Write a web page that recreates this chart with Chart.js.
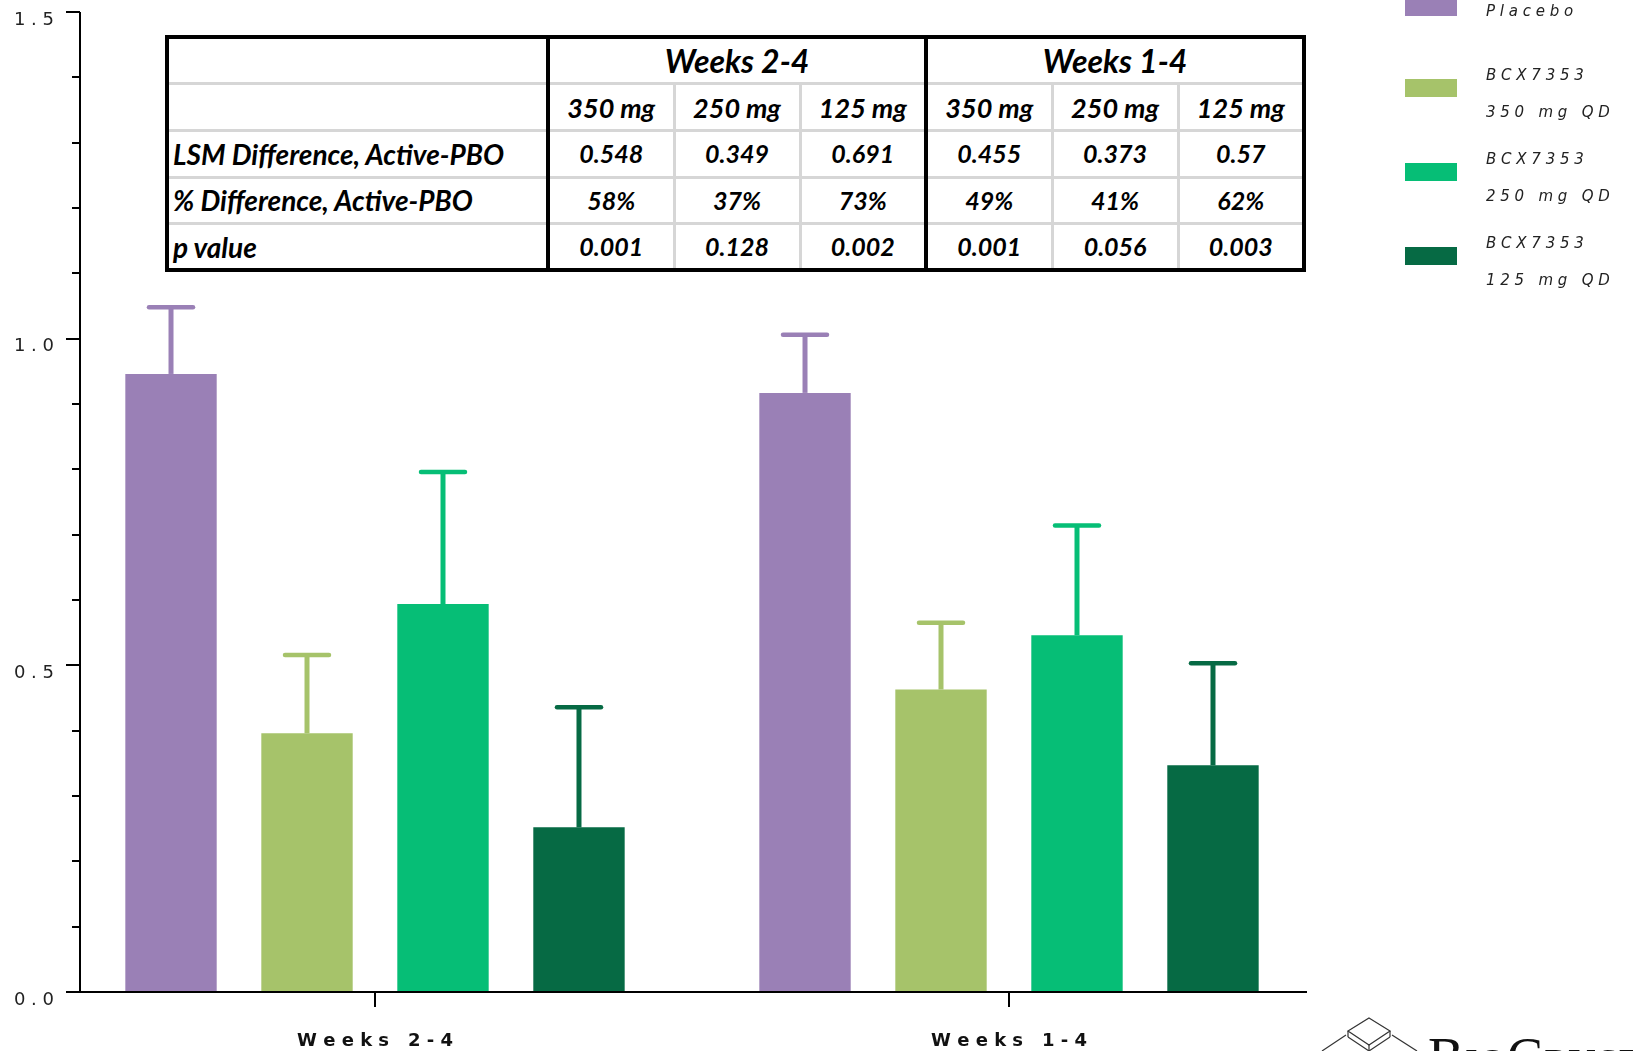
<!DOCTYPE html>
<html>
<head>
<meta charset="utf-8">
<script src="https://cdn.jsdelivr.net/npm/chart.js@4.4.0/dist/chart.umd.min.js"></script>
<style>
  body { margin: 0; background: #fff; }
  #wrap { position: relative; width: 1633px; height: 1051px; overflow: hidden; }
  #chart { position: absolute; left: 0; top: 0; }
  #stats { position: absolute; left: 165px; top: 35px; width: 1141px; table-layout: fixed;
           border-collapse: collapse; border: 4px solid #000; background: #fff; color: #000;
           font-family: Lato, sans-serif; font-weight: bold; font-style: italic; font-size: 25px; }
  #stats tr { height: 46.7px; }
  #stats td { border: 3px solid #d6d6d6; padding: 0; text-align: center; white-space: nowrap; line-height: 1; }
  #stats td.lab { text-align: left; padding-left: 4px; font-size: 28px; }
  #stats td.sep { border-left: 4px solid #000; }
  #stats td.head { font-size: 32px; }
  #stats td.dose { font-size: 27px; }
  #logo { position: absolute; left: 1300px; top: 1000px; }
  #logoText { position: absolute; left: 1428px; top: 1026px; font-family: "Liberation Serif", serif;
              font-size: 54px; font-variant: small-caps; color: #111; letter-spacing: 1px; }
</style>
</head>
<body>
<div id="wrap">
  <canvas id="chart"></canvas>
  <table id="stats"></table>
  <svg id="logo" width="140" height="51">
    <g fill="none" stroke="#333" stroke-width="1.2">
      <polygon points="69,18 90,31 69,45 48,31" />
      <line x1="69" y1="45" x2="69" y2="51" />
      <line x1="48" y1="31" x2="48" y2="37" />
      <line x1="90" y1="31" x2="90" y2="37" />
      <line x1="46" y1="35" x2="22" y2="51" />
      <line x1="92" y1="35" x2="117" y2="51" />
      <line x1="48" y1="37" x2="69" y2="51" />
      <line x1="90" y1="37" x2="69" y2="51" />
    </g>
  </svg>
  <div id="logoText">BioCryst</div>
</div>
<script>
// chart values
const categories = ['Weeks 2-4', 'Weeks 1-4'];
const seriesNames = ['Placebo', 'BCX7353 350 mg QD', 'BCX7353 250 mg QD', 'BCX7353 125 mg QD'];
const seriesColors = ['#9a80b6', '#a6c36a', '#06be76', '#066a44'];

const placebo = [0.946, 0.917];
const dose350 = [0.396, 0.463];
const dose250 = [0.594, 0.546];
const dose125 = [0.252, 0.347];

// upper end of each error bar
const placeboErr = [1.048, 1.006];
const dose350Err = [0.516, 0.565];
const dose250Err = [0.796, 0.714];
const dose125Err = [0.436, 0.503];

const yMin = 0, yMax = 1.5, yStep = 0.1;

// table values
const periods = ['Weeks 2-4', 'Weeks 1-4'];
const doses = ['350 mg', '250 mg', '125 mg'];
const rowLabels = ['LSM Difference, Active-PBO', '% Difference, Active-PBO', 'p value'];
const lsmDiff = ['0.548', '0.349', '0.691', '0.455', '0.373', '0.57'];
const pctDiff = ['58%', '37%', '73%', '49%', '41%', '62%'];
const pValues = ['0.001', '0.128', '0.002', '0.001', '0.056', '0.003'];

function spaced(s) {
    return s.split('').join(' ');
}

// build the table over the chart
const table = document.getElementById('stats');
let html = '<colgroup><col style="width:381px">';
for (let i = 0; i < 6; i++) html += '<col style="width:126px">';
html += '</colgroup>';
html += '<tr><td class="lab"></td>' + periods.map(p => '<td colspan="3" class="head sep">' + p + '</td>').join('') + '</tr>';
html += '<tr><td class="lab"></td>' + periods.map(() => doses.map((d, k) => '<td class="dose' + (k === 0 ? ' sep' : '') + '">' + d + '</td>').join('')).join('') + '</tr>';
[lsmDiff, pctDiff, pValues].forEach((row, r) => {
    html += '<tr><td class="lab">' + rowLabels[r] + '</td>' +
        row.map((v, k) => '<td' + (k % 3 === 0 ? ' class="sep"' : '') + '>' + v + '</td>').join('') + '</tr>';
});
table.innerHTML = html;

function isMajor(v) {
    return Math.abs(v * 2 - Math.round(v * 2)) < 1e-6;
}

// gap between the left edge of the category scale and the drawn y axis line
const AXIS_INSET = 22;

// error bars (upper only, with cap)
const errorBars = {
    id: 'errorBars',
    afterDatasetsDraw(chart) {
        const ctx = chart.ctx;
        const y = chart.scales.y;
        chart.data.datasets.forEach((ds, i) => {
            const meta = chart.getDatasetMeta(i);
            meta.data.forEach((bar, j) => {
                const top = y.getPixelForValue(ds.errorTop[j]);
                ctx.save();
                ctx.strokeStyle = ds.backgroundColor;
                ctx.lineWidth = 5;
                ctx.beginPath();
                ctx.moveTo(bar.x, bar.y);
                ctx.lineTo(bar.x, top);
                ctx.stroke();
                ctx.lineWidth = 4.5;
                ctx.lineCap = 'round';
                ctx.beginPath();
                ctx.moveTo(bar.x - 22, top);
                ctx.lineTo(bar.x + 22, top);
                ctx.stroke();
                ctx.restore();
            });
        });
    }
};

// y axis line with its tick marks, and the x axis line
const axisLines = {
    id: 'axisLines',
    afterDraw(chart) {
        const ctx = chart.ctx;
        const y = chart.scales.y;
        const area = chart.chartArea;
        const ax = area.left + AXIS_INSET;
        ctx.save();
        ctx.strokeStyle = '#000';
        ctx.lineWidth = 2;
        y.ticks.forEach(t => {
            const py = Math.round(y.getPixelForValue(t.value));
            const len = isMajor(t.value) ? 14 : 8;
            ctx.beginPath();
            ctx.moveTo(ax - len, py);
            ctx.lineTo(ax, py);
            ctx.stroke();
        });
        ctx.beginPath();
        ctx.moveTo(ax, Math.round(y.getPixelForValue(yMax)));
        ctx.lineTo(ax, Math.round(y.getPixelForValue(0)));
        ctx.stroke();
        const py0 = Math.round(y.getPixelForValue(0));
        ctx.beginPath();
        ctx.moveTo(ax, py0);
        ctx.lineTo(area.right - 19, py0);
        ctx.stroke();
        ctx.restore();
    }
};

// legend at the top right
const sideLegend = {
    id: 'sideLegend',
    afterDraw(chart) {
        const ctx = chart.ctx;
        ctx.save();
        ctx.font = 'italic 15px "DejaVu Sans"';
        ctx.textBaseline = 'middle';
        chart.data.datasets.forEach((ds, i) => {
            const cy = i === 0 ? 7 : 88 + 84 * (i - 1);
            ctx.fillStyle = ds.backgroundColor;
            ctx.fillRect(1405, cy - 9, 52, 18);
            ctx.fillStyle = '#222';
            const words = ds.label.split(' ');
            if (words.length === 1) {
                ctx.fillText(spaced(ds.label), 1486, cy + 5);
            } else {
                ctx.fillText(spaced(words[0]), 1486, cy - 12);
                ctx.fillText(spaced(words.slice(1).join(' ')), 1486, cy + 25);
            }
        });
        ctx.restore();
    }
};

const values = [placebo, dose350, dose250, dose125];
const errors = [placeboErr, dose350Err, dose250Err, dose125Err];

const canvas = document.getElementById('chart');
canvas.width = 1633;
canvas.height = 1051;

new Chart(canvas, {
    type: 'bar',
    data: {
        labels: categories,
        datasets: seriesNames.map((name, i) => ({
            label: name,
            data: values[i],
            errorTop: errors[i],
            backgroundColor: seriesColors[i],
            borderWidth: 0,
            categoryPercentage: 0.858,
            barPercentage: 0.672
        }))
    },
    options: {
        responsive: false,
        animation: false,
        layout: { padding: { top: 12, right: 307, left: 0, bottom: 0 } },
        plugins: {
            legend: { display: false },
            tooltip: { enabled: false }
        },
        scales: {
            x: {
                grid: { display: true, drawOnChartArea: false, drawTicks: true, offset: false,
                        tickLength: 15, color: '#000', lineWidth: 2 },
                border: { display: false },
                ticks: {
                    padding: 24,
                    color: '#111',
                    font: { family: 'DejaVu Sans', weight: 'bold', size: 18 },
                    callback: function (v) { return spaced(this.getLabelForValue(v)); }
                },
                afterFit(scale) { scale.height = 59; }
            },
            y: {
                min: yMin,
                max: yMax,
                grid: { display: false },
                border: { display: false },
                ticks: {
                    stepSize: yStep,
                    padding: -4,
                    labelOffset: 8,
                    color: '#222',
                    font: { family: 'DejaVu Sans', size: 18 },
                    callback: v => isMajor(v) ? spaced(v.toFixed(1)) : ''
                },
                afterFit(scale) {
                    scale.width = 58;
                    scale.paddingTop = 0;
                    scale.paddingBottom = 0;
                }
            }
        }
    },
    plugins: [errorBars, axisLines, sideLegend]
});
</script>
</body>
</html>
